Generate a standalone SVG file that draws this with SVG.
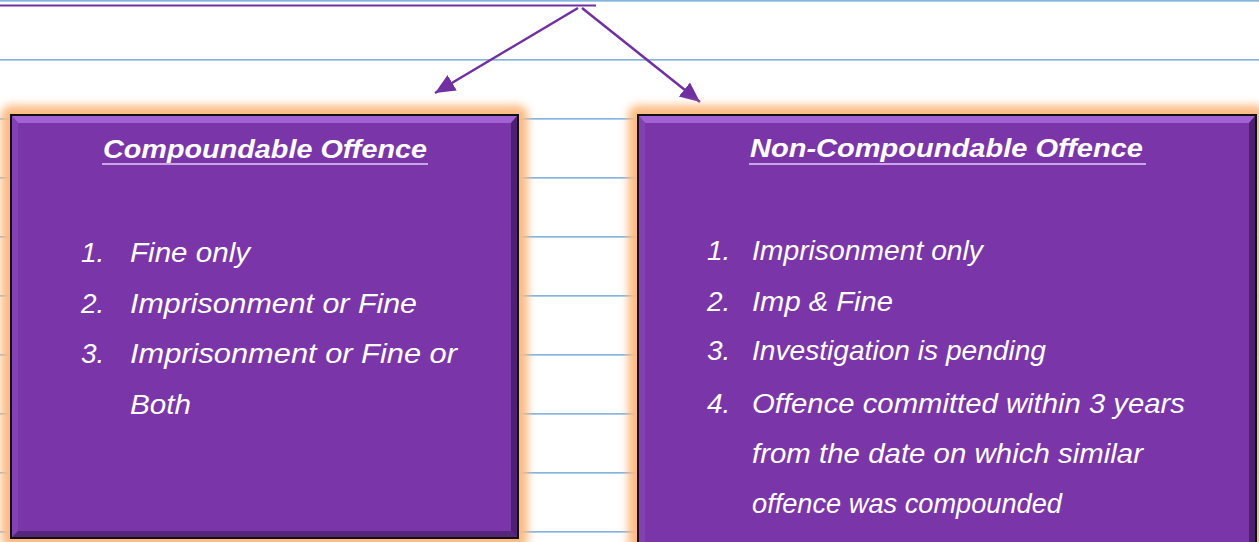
<svg xmlns="http://www.w3.org/2000/svg" width="1259" height="542" viewBox="0 0 1259 542">
  <defs>
    <style>
      .rule { stroke: #5b9bd5; stroke-width: 1.2; }
      .glow { fill: #fbbb84; filter: url(#blur); }
      .box { fill: #7a36a9; stroke: #111; stroke-width: 2; }
      .bevTop { fill: #a262d3; }
      .bevLeft { fill: #8242b4; }
      .bevRight { fill: #4e1f72; }
      .bevBot { fill: #552679; }
      .title { font-family: "Liberation Sans", Arial, sans-serif; font-size: 26px; font-weight: bold; font-style: italic; fill: #ffffff; }
      .item { font-family: "Liberation Sans", Arial, sans-serif; font-size: 28px; font-style: italic; fill: #ffffff; }
      .uline { stroke: #c9a5e3; stroke-width: 2; }
      .conn { stroke: #7030a0; stroke-width: 2.5; fill: none; }
    </style>
    <filter id="blur" x="-10%" y="-10%" width="120%" height="120%">
      <feGaussianBlur stdDeviation="4.5"/>
    </filter>
    <marker id="arrow" markerUnits="userSpaceOnUse" markerWidth="22" markerHeight="20" refX="20" refY="9" orient="auto">
      <path d="M0,0 L20,9 L0,18 z" fill="#7030a0"/>
    </marker>
  </defs>

  <rect x="0" y="0" width="1259" height="542" fill="#ffffff"/>

  <g id="ruled-lines">
    <line class="rule" x1="0" y1="0.8" x2="1259" y2="0.8"/>
    <line class="rule" x1="0" y1="59.8" x2="1259" y2="59.8"/>
    <line class="rule" x1="0" y1="118.8" x2="1259" y2="118.8"/>
    <line class="rule" x1="0" y1="177.8" x2="1259" y2="177.8"/>
    <line class="rule" x1="0" y1="236.8" x2="1259" y2="236.8"/>
    <line class="rule" x1="0" y1="295.8" x2="1259" y2="295.8"/>
    <line class="rule" x1="0" y1="354.8" x2="1259" y2="354.8"/>
    <line class="rule" x1="0" y1="413.8" x2="1259" y2="413.8"/>
    <line class="rule" x1="0" y1="472.8" x2="1259" y2="472.8"/>
    <line class="rule" x1="0" y1="531.8" x2="1259" y2="531.8"/>
  </g>

  <line x1="0" y1="5.5" x2="596" y2="5.5" stroke="#7030a0" stroke-width="2.2"/>

  <g id="connectors">
    <line class="conn" x1="578" y1="8" x2="435" y2="93" marker-end="url(#arrow)"/>
    <line class="conn" x1="582" y1="8" x2="700" y2="102" marker-end="url(#arrow)"/>
  </g>

  <g id="compoundable">
    <rect class="glow" x="1" y="105" width="527" height="444" rx="10"/>
    <rect class="box" x="11" y="115" width="507" height="423"/>
    <polygon class="bevTop" points="12,116 517,116 511,123 18,123"/>
    <polygon class="bevLeft" points="12,116 18,123 18,531 12,537"/>
    <polygon class="bevRight" points="517,116 517,537 511,531 511,123"/>
    <polygon class="bevBot" points="12,537 517,537 511,531 18,531"/>
    <text class="title" x="103" y="158" textLength="324" lengthAdjust="spacingAndGlyphs">Compoundable Offence</text>
    <line class="uline" x1="102" y1="164" x2="428" y2="164"/>
    <text class="item" x="81" y="262">1.</text>
    <text class="item" x="130" y="262" textLength="120" lengthAdjust="spacingAndGlyphs">Fine only</text>
    <text class="item" x="81" y="313">2.</text>
    <text class="item" x="130" y="313" textLength="287" lengthAdjust="spacingAndGlyphs">Imprisonment or Fine</text>
    <text class="item" x="81" y="363">3.</text>
    <text class="item" x="130" y="363" textLength="327" lengthAdjust="spacingAndGlyphs">Imprisonment or Fine or</text>
    <text class="item" x="130" y="414" textLength="61" lengthAdjust="spacingAndGlyphs">Both</text>
  </g>

  <g id="non-compoundable">
    <rect class="glow" x="628" y="105" width="638" height="448" rx="10"/>
    <rect class="box" x="638" y="115" width="618" height="430"/>
    <polygon class="bevTop" points="639,116 1255,116 1249,123 645,123"/>
    <polygon class="bevLeft" points="639,116 645,123 645,542 639,542"/>
    <polygon class="bevRight" points="1255,116 1255,542 1249,542 1249,123"/>
    <text class="title" x="750" y="157" textLength="393" lengthAdjust="spacingAndGlyphs">Non-Compoundable Offence</text>
    <line class="uline" x1="749" y1="164" x2="1146" y2="164"/>
    <text class="item" x="707" y="260">1.</text>
    <text class="item" x="752" y="260" textLength="231" lengthAdjust="spacingAndGlyphs">Imprisonment only</text>
    <text class="item" x="707" y="311">2.</text>
    <text class="item" x="752" y="311" textLength="141" lengthAdjust="spacingAndGlyphs">Imp &amp; Fine</text>
    <text class="item" x="707" y="360">3.</text>
    <text class="item" x="752" y="360" textLength="294" lengthAdjust="spacingAndGlyphs">Investigation is pending</text>
    <text class="item" x="707" y="413">4.</text>
    <text class="item" x="752" y="413" textLength="433" lengthAdjust="spacingAndGlyphs">Offence committed within 3 years</text>
    <text class="item" x="752" y="463" textLength="391" lengthAdjust="spacingAndGlyphs">from the date on which similar</text>
    <text class="item" x="752" y="513" textLength="310" lengthAdjust="spacingAndGlyphs">offence was compounded</text>
  </g>
</svg>
